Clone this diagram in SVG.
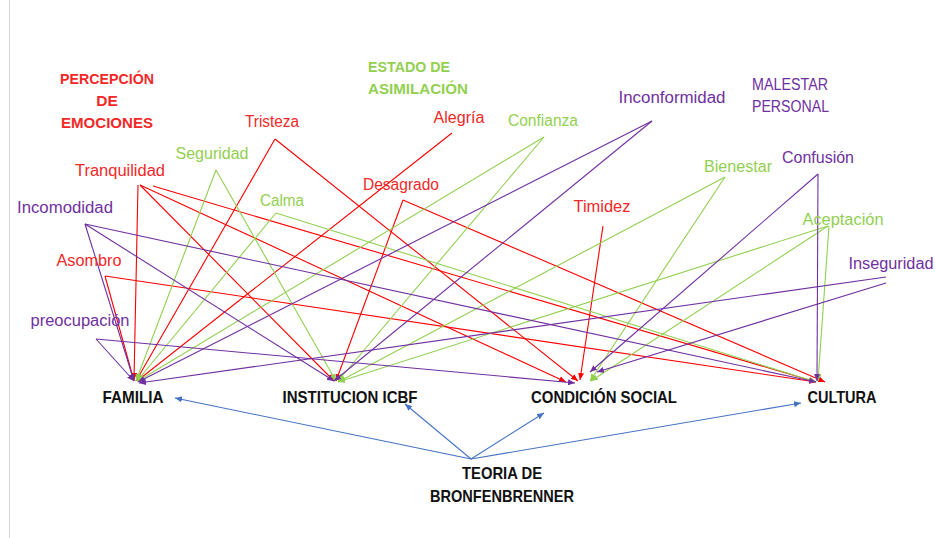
<svg xmlns="http://www.w3.org/2000/svg" width="935" height="538" viewBox="0 0 935 538">
<style>
text{font-family:"Liberation Sans",Arial,sans-serif;font-size:16px;text-anchor:middle}
.h{font-weight:bold;font-size:15.5px}
.t{font-weight:bold;font-size:16.5px;fill:#111}
.tr{fill:#f22828}.tg{fill:#92d050}.tp{fill:#7030a0}
.r{stroke:#ff0000;marker-end:url(#mr)}
.g{stroke:#92d050;marker-end:url(#mg)}
.p{stroke:#7030a0;marker-end:url(#mp)}
.b{stroke:#4472c4;marker-end:url(#mb)}
#conn line{stroke-width:1.1;fill:none}
</style>
<defs>
<marker id="mr" markerUnits="userSpaceOnUse" markerWidth="7" markerHeight="6" refX="7" refY="3" orient="auto"><path d="M0,0L7,3L0,6z" fill="#ff0000"/></marker>
<marker id="mg" markerUnits="userSpaceOnUse" markerWidth="7" markerHeight="6" refX="7" refY="3" orient="auto"><path d="M0,0L7,3L0,6z" fill="#92d050"/></marker>
<marker id="mp" markerUnits="userSpaceOnUse" markerWidth="7" markerHeight="6" refX="7" refY="3" orient="auto"><path d="M0,0L7,3L0,6z" fill="#7030a0"/></marker>
<marker id="mb" markerUnits="userSpaceOnUse" markerWidth="7" markerHeight="6" refX="7" refY="3" orient="auto"><path d="M0,0L7,3L0,6z" fill="#4472c4"/></marker>
</defs>
<rect width="935" height="538" fill="#ffffff"/>
<line x1="9.5" y1="0" x2="9.5" y2="538" stroke="#d6d6d6" stroke-width="1"/>

<g id="conn">
<line class="r" x1="275" y1="139" x2="136" y2="381"/>
<line class="r" x1="275" y1="139" x2="578" y2="381"/>
<line class="r" x1="138" y1="185" x2="134" y2="380"/>
<line class="r" x1="140" y1="185" x2="334" y2="381"/>
<line class="r" x1="140" y1="185" x2="566" y2="382"/>
<line class="r" x1="153" y1="186" x2="816" y2="382"/>
<line class="r" x1="452" y1="133" x2="137" y2="381"/>
<line class="r" x1="403" y1="200" x2="336" y2="381"/>
<line class="r" x1="403" y1="200" x2="825" y2="382"/>
<line class="r" x1="603" y1="226" x2="580" y2="380"/>
<line class="r" x1="105" y1="276" x2="134" y2="381"/>
<line class="r" x1="105" y1="276" x2="816" y2="382"/>
<line class="g" x1="216" y1="170" x2="136" y2="381"/>
<line class="g" x1="216" y1="170" x2="336" y2="381"/>
<line class="g" x1="276" y1="213" x2="137" y2="381"/>
<line class="g" x1="276" y1="213" x2="816" y2="382"/>
<line class="g" x1="544" y1="137" x2="138" y2="381"/>
<line class="g" x1="544" y1="137" x2="338" y2="381"/>
<line class="g" x1="725" y1="177" x2="338" y2="382"/>
<line class="g" x1="725" y1="177" x2="590" y2="381"/>
<line class="g" x1="828" y1="226" x2="338" y2="382"/>
<line class="g" x1="828" y1="226" x2="591" y2="381"/>
<line class="g" x1="829" y1="226" x2="818" y2="381"/>
<line class="p" x1="85" y1="224" x2="134" y2="381"/>
<line class="p" x1="85" y1="224" x2="334" y2="381"/>
<line class="p" x1="85" y1="224" x2="816" y2="382"/>
<line class="p" x1="96" y1="339" x2="134" y2="381"/>
<line class="p" x1="96" y1="339" x2="575" y2="383"/>
<line class="p" x1="652" y1="121" x2="138" y2="382"/>
<line class="p" x1="652" y1="121" x2="334" y2="381"/>
<line class="p" x1="818" y1="174" x2="817" y2="381"/>
<line class="p" x1="818" y1="174" x2="590" y2="372"/>
<line class="p" x1="886" y1="277" x2="139" y2="383"/>
<line class="p" x1="886" y1="283" x2="597" y2="372"/>
<line class="b" x1="471" y1="459" x2="175" y2="398"/>
<line class="b" x1="471" y1="459" x2="405" y2="404"/>
<line class="b" x1="471" y1="459" x2="544" y2="413"/>
<line class="b" x1="471" y1="459" x2="801" y2="403"/>
</g>

<g id="cat-percepcion"><text class="h tr" x="107" y="84" textLength="94" lengthAdjust="spacingAndGlyphs">PERCEPCIÓN</text><text class="h tr" x="107" y="106">DE</text><text class="h tr" x="107" y="128" textLength="92" lengthAdjust="spacingAndGlyphs">EMOCIONES</text></g>
<g id="cat-estado"><text class="h tg" x="368" y="72" style="text-anchor:start" textLength="82" lengthAdjust="spacingAndGlyphs">ESTADO DE</text><text class="h tg" x="368" y="94" style="text-anchor:start" textLength="100" lengthAdjust="spacingAndGlyphs">ASIMILACIÓN</text></g>
<g id="cat-malestar"><text class="tp" x="752" y="90" style="text-anchor:start" textLength="76" lengthAdjust="spacingAndGlyphs">MALESTAR</text><text class="tp" x="752" y="112" style="text-anchor:start" textLength="77" lengthAdjust="spacingAndGlyphs">PERSONAL</text></g>

<g id="n-tristeza"><text class="tr" x="272" y="127" textLength="54" lengthAdjust="spacingAndGlyphs">Tristeza</text></g>
<g id="n-tranquilidad"><text class="tr" x="120" y="176" textLength="90" lengthAdjust="spacingAndGlyphs">Tranquilidad</text></g>
<g id="n-alegria"><text class="tr" x="459" y="123" textLength="51" lengthAdjust="spacingAndGlyphs">Alegría</text></g>
<g id="n-desagrado"><text class="tr" x="401" y="190" textLength="76" lengthAdjust="spacingAndGlyphs">Desagrado</text></g>
<g id="n-timidez"><text class="tr" x="602" y="212" textLength="57" lengthAdjust="spacingAndGlyphs">Timidez</text></g>
<g id="n-asombro"><text class="tr" x="89" y="266" textLength="65" lengthAdjust="spacingAndGlyphs">Asombro</text></g>
<g id="n-seguridad"><text class="tg" x="212" y="159" textLength="73" lengthAdjust="spacingAndGlyphs">Seguridad</text></g>
<g id="n-calma"><text class="tg" x="282" y="206" textLength="44" lengthAdjust="spacingAndGlyphs">Calma</text></g>
<g id="n-confianza"><text class="tg" x="543" y="126" textLength="70" lengthAdjust="spacingAndGlyphs">Confianza</text></g>
<g id="n-bienestar"><text class="tg" x="738" y="172" textLength="68" lengthAdjust="spacingAndGlyphs">Bienestar</text></g>
<g id="n-aceptacion"><text class="tg" x="843" y="225" textLength="81" lengthAdjust="spacingAndGlyphs">Aceptación</text></g>
<g id="n-incomodidad"><text class="tp" x="65" y="213" textLength="96" lengthAdjust="spacingAndGlyphs">Incomodidad</text></g>
<g id="n-preocupacion"><text class="tp" x="80" y="326" textLength="99" lengthAdjust="spacingAndGlyphs">preocupación</text></g>
<g id="n-inconformidad"><text class="tp" x="672" y="103" textLength="107" lengthAdjust="spacingAndGlyphs">Inconformidad</text></g>
<g id="n-confusion"><text class="tp" x="818" y="163" textLength="72" lengthAdjust="spacingAndGlyphs">Confusión</text></g>
<g id="n-inseguridad"><text class="tp" x="891" y="269" textLength="85" lengthAdjust="spacingAndGlyphs">Inseguridad</text></g>

<g id="n-familia"><text class="t" x="133" y="403" textLength="61" lengthAdjust="spacingAndGlyphs">FAMILIA</text></g>
<g id="n-icbf"><text class="t" x="350" y="403" textLength="135" lengthAdjust="spacingAndGlyphs">INSTITUCION ICBF</text></g>
<g id="n-condicion"><text class="t" x="604" y="403" textLength="146" lengthAdjust="spacingAndGlyphs">CONDICIÓN SOCIAL</text></g>
<g id="n-cultura"><text class="t" x="842" y="403" textLength="69" lengthAdjust="spacingAndGlyphs">CULTURA</text></g>
<g id="n-teoria"><text class="t" x="502" y="479" textLength="80" lengthAdjust="spacingAndGlyphs">TEORIA DE</text><text class="t" x="502" y="502" textLength="144" lengthAdjust="spacingAndGlyphs">BRONFENBRENNER</text></g>
</svg>
